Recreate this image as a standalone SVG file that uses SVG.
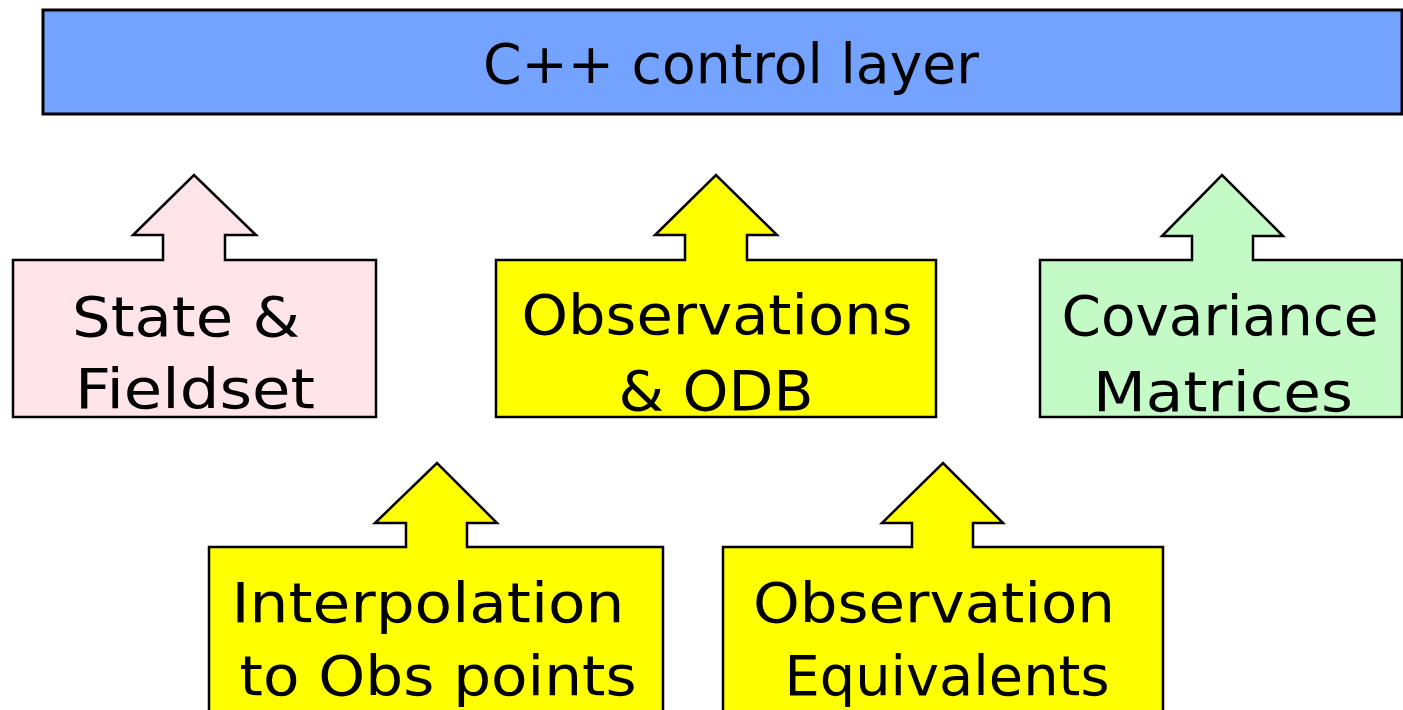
<svg xmlns="http://www.w3.org/2000/svg" width="1403" height="710" viewBox="0 0 1403 710">
<style>
.shape{stroke:#000;stroke-width:2.5;stroke-linejoin:miter}
.bar{stroke:#000;stroke-width:3}
.lbl{font-family:"DejaVu Sans","Liberation Sans",sans-serif;font-size:55px;fill:#000;text-anchor:middle}
</style>
<rect width="1403" height="710" fill="#fff"/>
<g id="control-layer">
<rect class="bar" x="43" y="10" width="1359" height="104" fill="#74A2FF"/>
<text class="lbl" x="731" y="83" textLength="496" lengthAdjust="spacingAndGlyphs">C++ control layer</text>
</g>
<g id="state-fieldset">
<polygon class="shape" fill="#FFE5EA" points="13,260 163,260 163,235 133,235 194,175 256,235 225,235 225,260 376,260 376,417 13,417"/>
<text class="lbl" x="186" y="336" textLength="228" lengthAdjust="spacingAndGlyphs">State &amp;</text>
<text class="lbl" x="195" y="408" textLength="240" lengthAdjust="spacingAndGlyphs">Fieldset</text>
</g>
<g id="observations-odb">
<polygon class="shape" fill="#FFFF00" points="496,260 685,260 685,235 655,235 716,175 777,235 747,235 747,260 936,260 936,417 496,417"/>
<text class="lbl" x="717" y="334" textLength="391" lengthAdjust="spacingAndGlyphs">Observations</text>
<text class="lbl" x="716" y="410" textLength="195" lengthAdjust="spacingAndGlyphs">&amp; ODB</text>
</g>
<g id="covariance-matrices">
<polygon class="shape" fill="#C4FAC6" points="1040,260 1192,260 1192,236 1162,236 1222,175 1283,236 1253,236 1253,260 1402,260 1402,417 1040,417"/>
<text class="lbl" x="1220" y="335" textLength="317" lengthAdjust="spacingAndGlyphs">Covariance</text>
<text class="lbl" x="1223" y="411" textLength="260" lengthAdjust="spacingAndGlyphs">Matrices</text>
</g>
<g id="interpolation">
<polygon class="shape" fill="#FFFF00" points="209,547 406,547 406,523 375,523 437,463 497,523 467,523 467,547 663,547 663,722 209,722"/>
<text class="lbl" x="428" y="622" textLength="393" lengthAdjust="spacingAndGlyphs">Interpolation</text>
<text class="lbl" x="438" y="695" textLength="397" lengthAdjust="spacingAndGlyphs">to Obs points</text>
</g>
<g id="observation-equivalents">
<polygon class="shape" fill="#FFFF00" points="723,547 912,547 912,523 882,523 943,463 1003,523 973,523 973,547 1163,547 1163,722 723,722"/>
<text class="lbl" x="934" y="622" textLength="362" lengthAdjust="spacingAndGlyphs">Observation</text>
<text class="lbl" x="947" y="695" textLength="325" lengthAdjust="spacingAndGlyphs">Equivalents</text>
</g>
<g id="connectors"></g>
</svg>
